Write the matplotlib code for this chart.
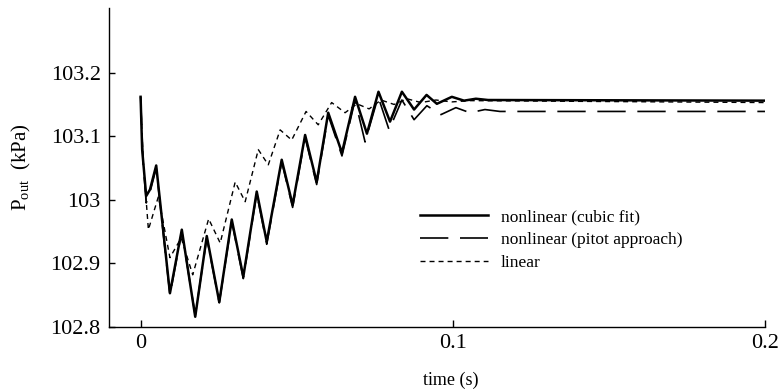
import matplotlib
matplotlib.use("Agg")
import matplotlib.pyplot as plt

# outlet pressure response after the step, read at peaks and troughs
t_cubic = [0.0, 0.0005, 0.0018, 0.0030, 0.0050, 0.0094, 0.0132, 0.0175, 0.0212,
           0.0252, 0.0292, 0.0329, 0.0372, 0.0404, 0.0452, 0.0487, 0.0527, 0.0564,
           0.0601, 0.0645, 0.0687, 0.0725, 0.0762, 0.0799, 0.0837, 0.0876, 0.0916,
           0.0949, 0.0997, 0.1036, 0.1074, 0.1113, 0.2]
p_cubic = [103.162, 103.079, 103.006, 103.016, 103.054, 102.853, 102.953, 102.816,
           102.943, 102.839, 102.969, 102.879, 103.013, 102.934, 103.063, 102.992,
           103.102, 103.028, 103.137, 103.074, 103.162, 103.104, 103.170, 103.123,
           103.170, 103.142, 103.165, 103.151, 103.162, 103.156, 103.159, 103.157,
           103.156]

t_pitot = [0.0, 0.0008, 0.0018, 0.0028, 0.0050, 0.0094, 0.0132, 0.0175, 0.0212,
           0.0252, 0.0292, 0.0329, 0.0372, 0.0404, 0.0452, 0.0487, 0.0527, 0.0564,
           0.0601, 0.0645, 0.0687, 0.0719, 0.0761, 0.0796, 0.0837, 0.0876, 0.0917,
           0.0962, 0.1010, 0.1055, 0.1103, 0.1151, 0.2]
p_pitot = [103.162, 103.060, 102.995, 103.008, 103.050, 102.850, 102.950, 102.818,
           102.940, 102.838, 102.966, 102.876, 103.010, 102.930, 103.060, 102.988,
           103.098, 103.024, 103.133, 103.069, 103.157, 103.091, 103.162, 103.110,
           103.157, 103.126, 103.148, 103.134, 103.145, 103.137, 103.142, 103.139,
           103.139]

t_linear = [0.0, 0.0008, 0.0025, 0.0057, 0.0094, 0.0130, 0.0167, 0.0218, 0.0255,
            0.0303, 0.0335, 0.0377, 0.0409, 0.0447, 0.0484, 0.0530, 0.0569, 0.0612,
            0.0655, 0.0693, 0.0732, 0.0770, 0.0812, 0.0853, 0.0898, 0.0946, 0.0997,
            0.1055, 0.2]
p_linear = [103.162, 103.063, 102.953, 103.005, 102.909, 102.940, 102.882, 102.970,
            102.932, 103.028, 102.997, 103.079, 103.055, 103.110, 103.094, 103.139,
            103.118, 103.153, 103.137, 103.151, 103.143, 103.157, 103.150, 103.159,
            103.153, 103.157, 103.154, 103.156, 103.153]

labels = ["nonlinear (cubic fit)", "nonlinear (pitot approach)", "linear"]
xticks = [0, 0.1, 0.2]
xticklabels = ["0", "0.1", "0.2"]
yticks = [102.8, 102.9, 103.0, 103.1, 103.2]
yticklabels = ["102.8", "102.9", "103", "103.1", "103.2"]

plt.rcParams['font.family'] = ['Liberation Serif', 'DejaVu Serif']

fig = plt.figure(figsize=(7.79, 3.92), dpi=100)
ax = fig.add_axes([0.140, 0.166, 0.842, 0.814])

ax.plot(t_linear, p_linear, color='black', lw=1.0, linestyle=(0, (3.6, 2.9)), label=labels[2])
ax.plot(t_pitot, p_pitot, color='black', lw=1.2, linestyle=(0, (17, 7)), label=labels[1])
ax.plot(t_cubic, p_cubic, color='black', lw=1.8, label=labels[0])

ax.set_xlim(-0.0101, 0.2)
ax.set_ylim(102.8, 103.302)
ax.set_xticks(xticks)
ax.set_xticklabels(xticklabels)
ax.set_yticks(yticks)
ax.set_yticklabels(yticklabels)

for side in ['top', 'right']:
    ax.spines[side].set_visible(False)
for side in ['left', 'bottom']:
    ax.spines[side].set_linewidth(1.0)

ax.tick_params(axis='both', direction='in', labelsize=16, width=1.0)
ax.tick_params(axis='y', length=4, pad=6)
ax.tick_params(axis='x', length=5, pad=5)

ax.set_xlabel("time (s)", fontsize=13, va='center')
ax.xaxis.set_label_coords(0.521, -0.166)
ax.set_ylabel(r"P$_\mathregular{out}$  (kPa)", fontsize=15, va='center')
ax.yaxis.set_label_coords(-0.133, 0.5)

# legend in the lower right, cubic fit listed first
h, l = ax.get_legend_handles_labels()
order = [2, 1, 0]
ax.legend([h[i] for i in order], [l[i] for i in order], frameon=False,
          fontsize=12.5, handlelength=3.9, handletextpad=0.75, labelspacing=0.4,
          borderpad=0, borderaxespad=0, loc='upper left',
          bbox_to_anchor=(420 / 779, 1 - 209 / 392), bbox_transform=fig.transFigure)

fig.savefig("out.png", dpi=100)
